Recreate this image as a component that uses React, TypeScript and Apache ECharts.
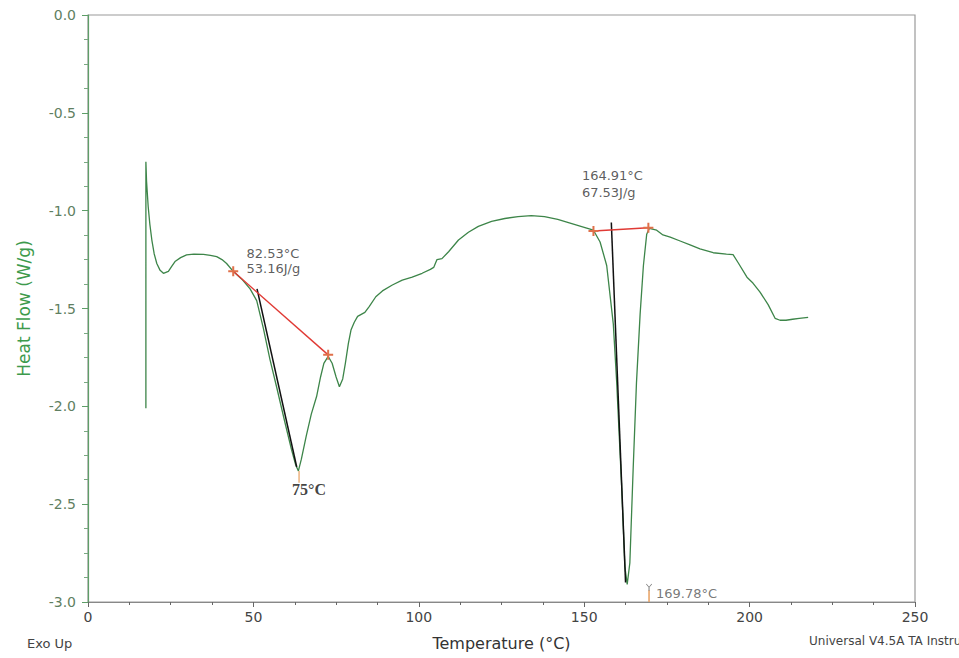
import React, { useEffect, useRef } from "react";
import * as echarts from "echarts";

// Temperature (°C) and heat flow (W/g) of the DSC trace
const tempC = [
  17.5, 17.5, 17.7, 18.2, 18.7, 19.3, 20.0, 20.8, 21.8, 22.8, 24.3, 25.3, 26.3, 28.0, 29.8, 32.0, 34.9, 37.0, 38.9, 40.5,
  41.9, 43.9, 46.5, 49.0, 51.0, 53.0, 55.0, 57.0, 59.5, 61.5, 62.8, 63.6, 64.5, 66.0, 67.5, 69.1, 70.3, 71.3, 72.6, 73.8,
  75.0, 76.0, 77.0, 77.8, 78.7, 79.5, 80.5, 81.5, 83.7, 85.0, 87.0, 89.0, 92.0, 95.0, 98.0, 101.0, 103.5, 104.5, 105.5, 107.0,
  109.0, 112.0, 115.0, 118.0, 122.0, 126.0, 130.0, 134.0, 138.0, 142.0, 146.0, 150.0, 152.8, 154.8, 156.8, 158.8, 159.8, 161.3, 162.3, 163.0,
  163.8, 164.8, 165.8, 166.9, 167.9, 168.9, 169.7, 171.9, 173.8, 176.0, 179.0, 182.0, 185.0, 189.0, 193.0, 195.0, 196.5, 199.2, 201.0, 203.1,
  205.6, 207.7, 209.2, 211.0, 213.0, 215.0, 217.7,
];
const heatFlow = [
  -2.01, -0.75, -0.85, -0.98, -1.07, -1.15, -1.22, -1.27, -1.305, -1.32, -1.31, -1.285, -1.26, -1.24, -1.226, -1.222, -1.223, -1.228, -1.235, -1.25,
  -1.27, -1.31, -1.35, -1.4, -1.46, -1.6, -1.76, -1.9, -2.08, -2.22, -2.3, -2.33, -2.27, -2.15, -2.04, -1.95, -1.85, -1.78, -1.745, -1.78,
  -1.85, -1.9, -1.86, -1.78, -1.68, -1.61, -1.57, -1.54, -1.52, -1.49, -1.44, -1.41, -1.38, -1.355, -1.34, -1.32, -1.3, -1.29, -1.25, -1.245,
  -1.21, -1.15, -1.11, -1.08, -1.055, -1.04, -1.03, -1.025, -1.03, -1.045, -1.065, -1.085, -1.1, -1.16, -1.28, -1.58, -1.87, -2.4, -2.82, -2.91,
  -2.8, -2.32, -1.88, -1.53, -1.28, -1.12, -1.09, -1.1, -1.124, -1.135, -1.155, -1.175, -1.195, -1.215, -1.222, -1.225, -1.265, -1.34, -1.37, -1.415,
  -1.48, -1.55, -1.56, -1.56, -1.555, -1.55, -1.545,
];

// Integration baselines (red) and onset tangents (black)
const baseline1T = [43.9, 72.6];
const baseline1HF = [-1.31, -1.737];
const tangent1T = [51.1, 63.1];
const tangent1HF = [-1.4, -2.31];
const baseline2T = [152.8, 169.4];
const baseline2HF = [-1.104, -1.087];
const tangent2T = [158.2, 162.5];
const tangent2HF = [-1.06, -2.9];

// Peak marker ticks
const peak1TickT = [63.8, 63.8];
const peak1TickHF = [-2.33, -2.39];
const peak2TickT = [169.6, 169.6];
const peak2TickHF = [-2.94, -3.0];

// Annotation texts and their anchors (data coordinates)
const noteTexts = ["82.53°C\n53.16J/g", "75°C", "164.91°C\n67.53J/g", "169.78°C"];
const noteT = [47.9, 61.7, 149.3, 171.7];
const noteHF = [-1.18, -2.382, -0.778, -2.918];

// Axis ticks
const xTicks = [0, 50, 100, 150, 200, 250];
const yTicks = [0, -0.5, -1.0, -1.5, -2.0, -2.5, -3.0];

const pairs = (a: number[], b: number[]) => a.map((v, i) => [v, b[i]]);

const CROSS = "path://M4,0h2v4h4v2h-4v4h-2v-4h-4v-2h4z";
const YMARK = "path://M0,0L5,6L10,0L11,1L6,7L6,14L4,14L4,7L-1,1Z";

export default function App() {
  const ref = useRef<HTMLDivElement>(null);

  useEffect(() => {
    if (!ref.current) return;
    const chart = echarts.init(ref.current, null, { renderer: "svg" });
    const font = "'DejaVu Sans', sans-serif";

    const noteStyles = [
      { fontSize: 13, lineHeight: 15, color: "#333", fontFamily: font },
      { fontSize: 16, lineHeight: 16, color: "#111", fontFamily: "'Liberation Serif', serif", fontWeight: "bold" },
      { fontSize: 13, lineHeight: 17, color: "#333", fontFamily: font },
      { fontSize: 13, lineHeight: 15, color: "#555", fontFamily: font },
    ];

    chart.setOption({
      animation: false,
      backgroundColor: "#ffffff",
      grid: {
        left: 88,
        right: 44,
        top: 15,
        bottom: 56,
        show: true,
        borderColor: "#9a9a9a",
        borderWidth: 1.2,
        backgroundColor: "transparent",
      },
      xAxis: {
        type: "value",
        min: xTicks[0],
        max: xTicks[xTicks.length - 1],
        interval: 50,
        name: "Temperature (°C)",
        nameLocation: "middle",
        nameGap: 33,
        nameTextStyle: { fontSize: 16, color: "#333", fontFamily: font },
        axisLine: { show: true, onZero: false, lineStyle: { color: "#888", width: 1.2 } },
        axisTick: { show: true, length: 5, lineStyle: { color: "#666" } },
        minorTick: { show: true, splitNumber: 4, length: 3, lineStyle: { color: "#666" } },
        axisLabel: { fontSize: 14, color: "#444", margin: 8, fontFamily: font },
        splitLine: { show: false },
      },
      yAxis: {
        type: "value",
        min: yTicks[yTicks.length - 1],
        max: yTicks[0],
        interval: 0.5,
        name: "Heat Flow (W/g)",
        nameLocation: "middle",
        nameGap: 56,
        nameTextStyle: { fontSize: 17, color: "#3d9a4c", fontFamily: font },
        axisLine: { show: true, onZero: false, lineStyle: { color: "#5e9e68", width: 1.2 } },
        axisTick: { show: true, length: 6, lineStyle: { color: "#5e9e68" } },
        minorTick: { show: true, splitNumber: 4, length: 4, lineStyle: { color: "#7aa882" } },
        axisLabel: {
          fontSize: 14,
          color: "#5f7f62",
          margin: 12,
          fontFamily: font,
          formatter: (v: number) => v.toFixed(1),
        },
        splitLine: { show: false },
      },
      graphic: [
        { type: "text", left: 27, top: 637, style: { text: "Exo Up", fontSize: 13, fill: "#444", fontFamily: font } },
        {
          type: "text",
          left: 809,
          top: 635,
          style: { text: "Universal V4.5A TA Instruments", fontSize: 12, fill: "#444", fontFamily: font },
        },
      ],
      series: [
        {
          type: "line",
          data: pairs(tempC, heatFlow),
          symbol: "none",
          lineStyle: { color: "#3d8549", width: 1.3 },
          silent: true,
          z: 2,
        },
        {
          type: "line",
          data: pairs(tangent1T, tangent1HF),
          symbol: "none",
          lineStyle: { color: "#111", width: 1.5 },
          silent: true,
          z: 3,
        },
        {
          type: "line",
          data: pairs(tangent2T, tangent2HF),
          symbol: "none",
          lineStyle: { color: "#111", width: 1.5 },
          silent: true,
          z: 3,
        },
        {
          type: "line",
          data: pairs(baseline1T, baseline1HF),
          symbol: CROSS,
          symbolSize: 10,
          itemStyle: { color: "#e0704a" },
          lineStyle: { color: "#e03a35", width: 1.4 },
          silent: true,
          z: 4,
        },
        {
          type: "line",
          data: pairs(baseline2T, baseline2HF),
          symbol: CROSS,
          symbolSize: 10,
          itemStyle: { color: "#e0704a" },
          lineStyle: { color: "#e03a35", width: 1.4 },
          silent: true,
          z: 4,
        },
        {
          type: "line",
          data: pairs(peak1TickT, peak1TickHF),
          symbol: "none",
          lineStyle: { color: "#e8a060", width: 1.2 },
          silent: true,
          z: 4,
        },
        {
          type: "line",
          data: pairs(peak2TickT, peak2TickHF),
          symbol: "none",
          lineStyle: { color: "#e8a060", width: 1.5 },
          silent: true,
          z: 4,
        },
        {
          type: "scatter",
          data: [[peak2TickT[0], peak2TickHF[0] + 0.015]],
          symbol: YMARK,
          symbolSize: [6, 7],
          itemStyle: { color: "#555" },
          silent: true,
          z: 5,
        },
        {
          type: "scatter",
          data: pairs(noteT, noteHF).map((p, i) => ({
            value: p,
            label: {
              show: true,
              position: [0, 0],
              align: "left",
              verticalAlign: "top",
              formatter: noteTexts[i],
              ...noteStyles[i],
            },
          })),
          symbolSize: 0,
          silent: true,
          z: 6,
        },
      ],
    });

    return () => chart.dispose();
  }, []);

  return (
    <div
      ref={ref}
      style={{ position: "fixed", left: 0, top: 0, width: 959, height: 658, background: "#fff" }}
    />
  );
}
